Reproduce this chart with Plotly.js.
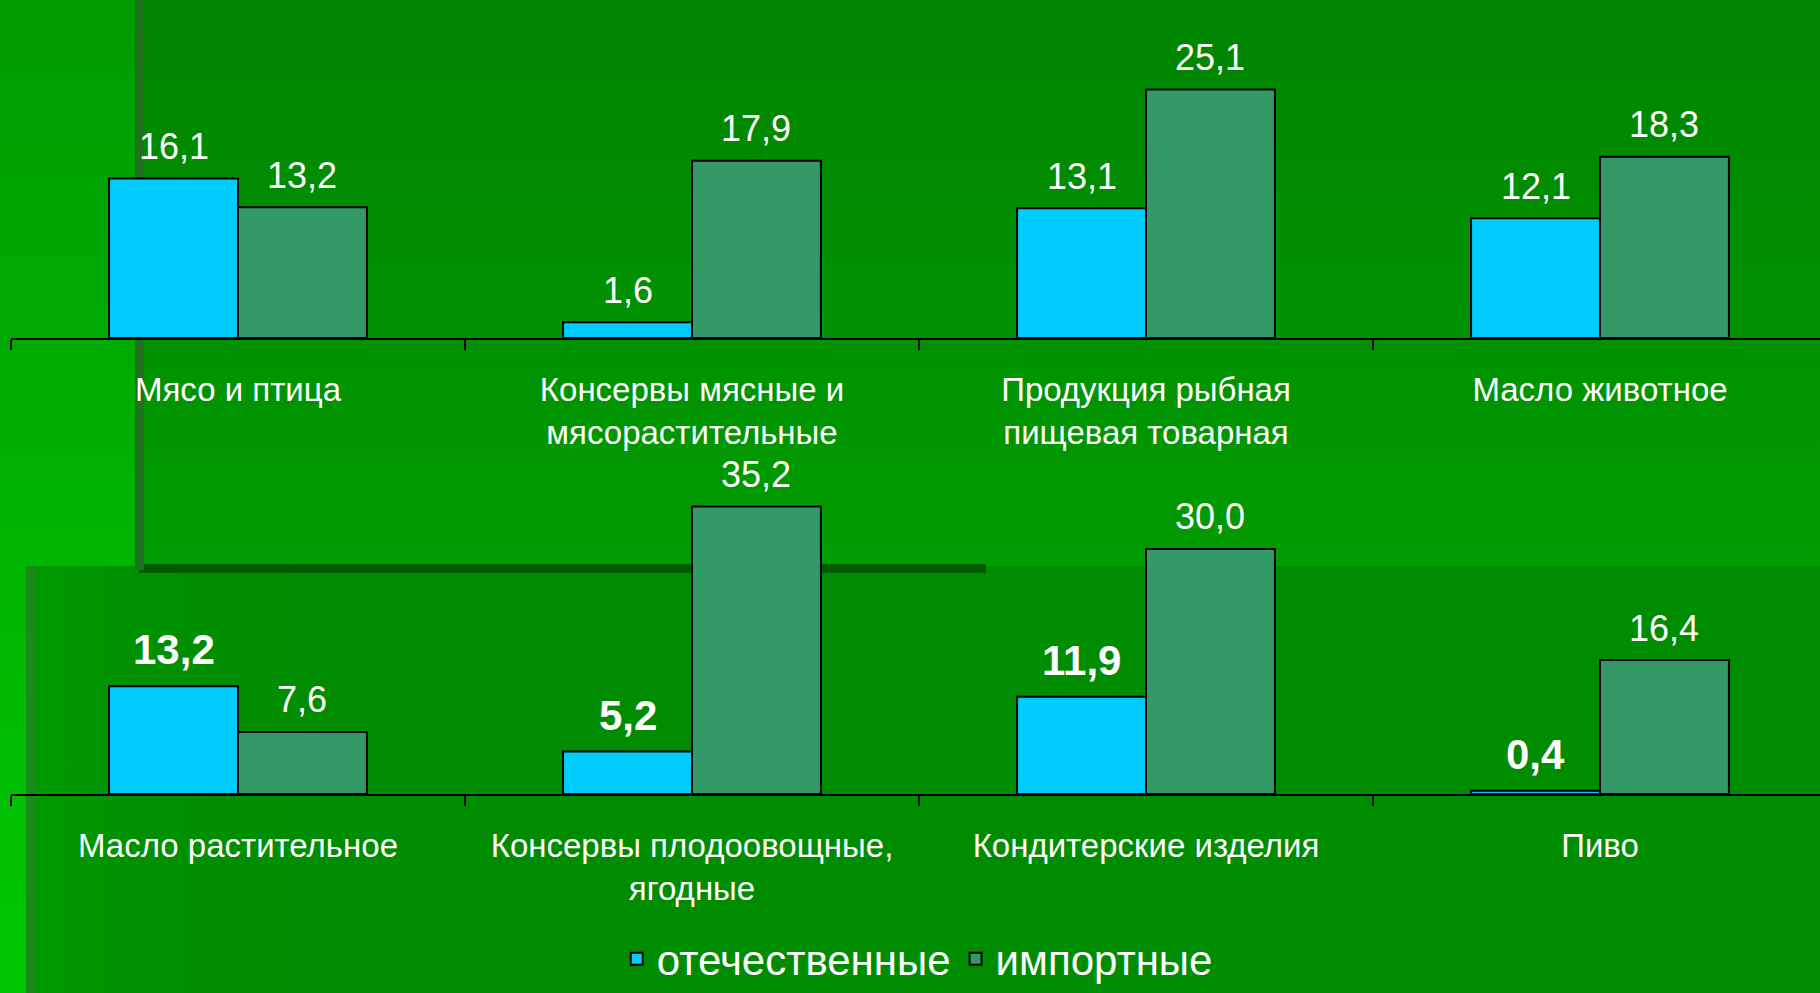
<!DOCTYPE html>
<html>
<head>
<meta charset="utf-8">
<script src="https://cdn.plot.ly/plotly-3.0.1.min.js"></script>
<style>
html,body{margin:0;padding:0;overflow:hidden;background:#008a00;}
#chart{width:1820px;height:993px;
background:
 linear-gradient(#1f701f,#1f701f) 135px 0/9px 570px no-repeat,
 linear-gradient(#005a00,#005a00) 139px 564px/847px 9px no-repeat,
 linear-gradient(to bottom,#008400,#009c00) 144px 0/1676px 566px no-repeat,
 linear-gradient(to right,#1a8a1a 0,#1a8a1a 9px,#009a00 9px,#009000 118px,#008c00 300px,#008c00 100%) 26px 566px/1794px 427px no-repeat,
 linear-gradient(to bottom,#009c00,#00c800) 0 0/144px 993px no-repeat;
}
</style>
</head>
<body>
<div id="chart"></div>
<script>
// ---- data ----
const categoriesTop = ['Мясо и птица', 'Консервы мясные и<br>мясорастительные', 'Продукция рыбная<br>пищевая товарная', 'Масло животное'];
const domesticTop = [16.1, 1.6, 13.1, 12.1];
const importTop = [13.2, 17.9, 25.1, 18.3];

const categoriesBottom = ['Масло растительное', 'Консервы плодоовощные,<br>ягодные', 'Кондитерские изделия', 'Пиво'];
const domesticBottom = [13.2, 5.2, 11.9, 0.4];
const importBottom = [7.6, 35.2, 30.0, 16.4];

const seriesNames = ['отечественные', 'импортные'];

// ---- styles ----
const W = 1820, H = 993;
const colDomestic = '#00ccff', colImport = '#339966';
const FONT = 'Liberation Sans, Arial, sans-serif';
const bargap = 0.432;
const off = (1 - bargap) / 4;
const fmt = v => v.toFixed(1).replace('.', ',');

function barTrace(x, y, name, color, xa, ya, showlegend) {
  return {
    type: 'bar', x: x, y: y, name: name, xaxis: xa, yaxis: ya,
    showlegend: showlegend, legendgroup: name,
    marker: {color: color, line: {color: '#000000', width: 2}},
    hoverinfo: 'skip'
  };
}

const data = [
  barTrace(categoriesTop, domesticTop, seriesNames[0], colDomestic, 'x', 'y', true),
  barTrace(categoriesTop, importTop, seriesNames[1], colImport, 'x', 'y', true),
  barTrace(categoriesBottom, domesticBottom, seriesNames[0], colDomestic, 'x2', 'y2', false),
  barTrace(categoriesBottom, importBottom, seriesNames[1], colImport, 'x2', 'y2', false)
];

const annotations = [];
function addLabels(vals, xref, yref, sign, size, bold, yshift) {
  vals.forEach((v, i) => {
    annotations.push({
      xref: xref, yref: yref, x: i + sign * off, y: v,
      text: fmt(v), showarrow: false, yanchor: 'bottom', xanchor: 'center',
      yshift: yshift,
      font: {family: FONT, size: size, color: '#ffffff', weight: bold ? 'bold' : 'normal'}
    });
  });
}
addLabels(domesticTop, 'x', 'y', -1, 36, false, 9.5);
addLabels(importTop, 'x', 'y', 1, 36, false, 9.5);
addLabels(domesticBottom, 'x2', 'y2', -1, 42, true, 11);
addLabels(importBottom, 'x2', 'y2', 1, 36, false, 9.5);

function xAxis(anchor) {
  return {
    anchor: anchor, type: 'category',
    domain: [11 / W, 1], range: [-0.5, -0.5 + (W - 11) / 454],
    showline: true, linecolor: '#000000', linewidth: 2,
    ticks: 'outside', ticklen: 10, tickwidth: 2, tickcolor: '#000000',
    tickson: 'boundaries', showgrid: false, zeroline: false,
    ticklabelstandoff: 21,
    tickfont: {family: FONT, size: 33, color: '#ffffff'},
    fixedrange: true
  };
}

const layout = {
  width: W, height: H,
  margin: {l: 0, r: 0, t: 0, b: 0, autoexpand: false},
  paper_bgcolor: 'rgba(0,0,0,0)', plot_bgcolor: 'rgba(0,0,0,0)',
  font: {family: FONT, color: '#ffffff'},
  barmode: 'group', bargap: bargap, bargroupgap: 0,
  showlegend: true,
  legend: {
    orientation: 'h', x: 0.504, xanchor: 'center', y: 0.0, yanchor: 'bottom',
    font: {family: FONT, size: 42, color: '#ffffff'}, bgcolor: 'rgba(0,0,0,0)',
    traceorder: 'normal'
  },
  xaxis: xAxis('y'),
  yaxis: {anchor: 'x', domain: [(H - 338) / H, 1], range: [0, 338 / 9.9], visible: false, fixedrange: true},
  xaxis2: xAxis('y2'),
  yaxis2: {anchor: 'x2', domain: [(H - 794) / H, (H - 400) / H], range: [0, 394 / 8.17], visible: false, fixedrange: true},
  annotations: annotations
};

Plotly.newPlot('chart', data, layout, {displayModeBar: false, staticPlot: true});
</script>
</body>
</html>
